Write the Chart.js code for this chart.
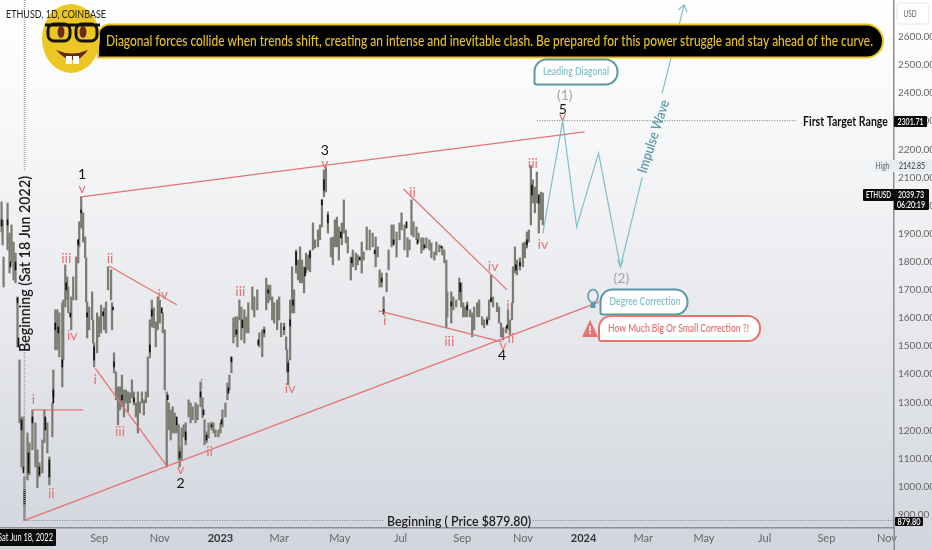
<!DOCTYPE html>
<html>
<head>
<meta charset="utf-8">
<title>ETHUSD leading diagonal</title>
<script src="https://cdn.jsdelivr.net/npm/chart.js@4"></script>
<style>
    html, body { margin: 0; padding: 0; }
    body { width: 932px; height: 550px; overflow: hidden; background: linear-gradient(180deg, #ffffff 0%, #f6f7f8 25%, #e6e8ec 60%, #d2d5dd 100%); }
    canvas { display: block; }
</style>
</head>
<body>
<canvas id="chart" width="932" height="550"></canvas>
<script>
// x axis is days since Jun 18 2022, y axis is price in USD
const monthDays = [75, 136, 197, 256, 317, 378, 440, 501, 562, 622, 683, 744, 806, 867];
const monthLabels = ['Sep', 'Nov', '2023', 'Mar', 'May', 'Jul', 'Sep', 'Nov', '2024', 'Mar', 'May', 'Jul', 'Sep', 'Nov'];
const priceTicks = [900, 1000, 1100, 1200, 1300, 1400, 1500, 1600, 1700, 1800, 1900, 2000, 2100, 2200, 2300, 2400, 2500, 2600];

// candle ranges
const candleDays = [-23,-22,-21,-17,-15,-13,-11,-9,-7,-5,-3,-1,0,3,5,8,11,13,15,18,20,23,25,28,29,31,33,35,38,39,41,43,44,47,49,52,54,55,57,59,61,62,63,65,68,69,70,73,75,77,80,82,84,87,
    88,90,92,94,96,98,100,102,104,106,108,110,112,114,116,118,120,122,124,126,128,130,132,134,136,139,141,143,145,147,149,151,153,155,156,158,160,162,165,167,169,172,174,177,179,181,183,185,188,190,192,195,197,199,202,204,
    206,208,210,212,214,216,218,221,223,225,229,231,234,236,239,241,243,245,247,249,251,254,256,258,261,263,264,265,267,269,271,273,275,277,279,281,283,285,287,290,292,295,297,299,301,303,305,308,310,312,314,316,319,321,323,325,
    328,330,333,335,339,341,344,347,350,353,355,357,359,361,364,366,369,371,374,377,379,382,385,387,389,391,394,396,399,401,404,407,409,412,414,417,420,422,424,425,429,431,434,437,439,441,443,445,448,450,452,455,457,
    460,462,465,467,469,471,475,477,479,481,484,486,488,490,491,493,495,498,501,503,505,507,509,511,513,515,517,519,521];
const candleHighs = [2013,1949,1817,2009,1902,1931,1870,1831,1675,1451,1248,1248,1035,1191,1156,1273,1227,1131,1085,1166,1273,1227,1106,1298,1415,1629,1629,1618,1654,1664,1789,1746,1710,1675,1746,1817,1878,1942,2031,1974,1888,1814,1657,1639,1693,1593,1511,1618,1604,1646,1636,1657,1782,1771,
    1654,1476,1408,1355,1355,1397,1344,1344,1337,1334,1380,1337,1298,1337,1301,1337,1309,1337,1461,1593,1664,1636,1586,1675,1664,1618,1558,1337,1298,1273,1284,1262,1227,1220,1141,1209,1220,1227,1309,1298,1284,1298,1291,1373,1316,1238,1195,1227,1230,1227,1202,1202,1227,1273,1298,1369,
    1397,1461,1600,1604,1604,1664,1639,1629,1604,1654,1710,1675,1700,1547,1558,1568,1742,1717,1717,1675,1654,1664,1675,1582,1582,1533,1487,1451,1664,1782,1700,1842,1806,1853,1806,1782,1831,1824,1842,1938,1878,1913,1931,2020,2127,2137,1977,1885,1888,1949,1959,1924,1938,2020,1913,1888,
    1817,1842,1831,1824,1870,1835,1924,1913,1902,1888,1853,1771,1760,1675,1760,1842,1931,1931,1906,1938,1974,1931,1885,1878,2020,1942,1924,1902,1885,1885,1885,1878,1867,1835,1870,1860,1853,1842,1806,1693,1693,1675,1664,1742,1725,1654,1639,1657,1629,1618,1639,1654,1664,
    1604,1593,1604,1664,1753,1675,1654,1639,1582,1565,1568,1629,1593,1654,1782,1853,1806,1814,1867,1870,1906,1913,2142,2091,2066,2119,2009,2048,2045];
const candleLows = [1906,1860,1710,1842,1760,1799,1735,1725,1497,1227,1070,1060,880,1024,1042,1131,1070,996,1035,1049,1156,1120,1006,1177,1319,1487,1487,1462,1355,1451,1639,1664,1618,1558,1664,1664,1796,1853,1920,1870,1814,1657,1529,1558,1593,1511,1426,1476,1533,1547,1558,1547,1700,1664,
    1558,1405,1309,1220,1273,1284,1248,1298,1266,1298,1316,1291,1248,1191,1262,1298,1255,1298,1319,1458,1568,1565,1497,1558,1582,1547,1344,1070,1202,1166,1191,1191,1191,1095,1070,1095,1177,1149,1248,1227,1238,1227,1238,1284,1245,1149,1156,1173,1202,1191,1177,1177,1191,1213,1248,1309,
    1344,1405,1511,1533,1497,1593,1522,1511,1547,1547,1629,1604,1629,1497,1462,1533,1629,1654,1664,1593,1582,1558,1593,1533,1540,1487,1408,1362,1451,1618,1618,1760,1735,1725,1725,1689,1760,1771,1764,1842,1849,1853,1878,1924,2031,2048,1902,1817,1789,1853,1853,1806,1860,1902,1867,1831,
    1735,1782,1771,1789,1760,1806,1842,1842,1853,1782,1817,1710,1710,1622,1693,1771,1853,1867,1817,1878,1913,1842,1817,1842,1895,1888,1878,1870,1831,1842,1849,1842,1814,1806,1824,1835,1824,1796,1565,1604,1582,1629,1639,1664,1639,1604,1604,1604,1604,1533,1558,1604,1604,
    1575,1565,1575,1593,1664,1639,1622,1582,1533,1522,1547,1558,1540,1593,1654,1760,1753,1771,1782,1814,1849,1870,1931,2009,1974,2009,1902,1949,1931];

// the dark candle bodies that stand out from the grey
const bodyDays = [-23,-17,-14,-9,-7,-6,-3,-1,0,4,8,15,21,25,29,31,34,38,42,46,54,57,63,70,79,89,90,98,110,126,128,138,144,153,156,162,177,180,183,188,198,205,208,213,219,235,241,245,261,265,267,270,273,282,287,299,301,305,318,329,337,352,359,361,371,384,395,402,419,429,438,445,465,469,485,494,498,505,510,517];
const bodyHighs = [1949,1949,1799,1799,1671,1529,1238,1070,989,1120,1248,1070,1248,1095,1344,1582,1568,1451,1725,1618,1878,1984,1618,1497,1622,1639,1444,1326,1316,1504,1629,1636,1326,1248,1124,1195,1337,1273,1184,1220,1238,1351,1461,1558,1593,1522,1558,1700,1568,1440,1593,1664,1835,1778,1835,2020,2091,1966,1906,1814,1817,1842,1742,1629,1878,1942,1878,1860,1856,1657,1725,1646,1593,1671,1575,1789,1799,1878,2073,2038];
const bodyLows = [1927,1931,1782,1771,1654,1497,1202,1049,935,1049,1227,1042,1202,1035,1298,1558,1547,1426,1700,1604,1860,1974,1604,1451,1607,1629,1426,1309,1301,1479,1607,1618,1309,1220,1102,1166,1319,1255,1166,1213,1223,1333,1444,1543,1565,1504,1547,1689,1558,1408,1572,1646,1789,1750,1814,2002,2055,1938,1885,1796,1806,1828,1728,1614,1860,1920,1863,1849,1849,1643,1693,1629,1579,1657,1565,1771,1785,1860,2038,2009];

// drawn trend lines
const redLineDays = [[57, 563], [0, 578], [8, 59], [85, 153], [71, 143], [381, 485], [356, 480]];
const redLinePrices = [[2031, 2262], [880, 1657], [1273, 1273], [1785, 1647], [1422, 1074], [2059, 1700], [1625, 1515]];

// projected path after the last candle
const pathDays = [521, 541, 555, 577, 599, 621];
const pathPrices = [1902, 2301, 1924, 2187, 1782, 2102];
const impulseDays = [641, 663];
const impulsePrices = [2400, 2713];
const arrowDays = [657, 663, 666];
const arrowPrices = [2695, 2713, 2688];

const targetDays = [515, 775];
const targetPrices = [2301.71, 2301.71];
const baseDays = [[0, 361], [511, 874]];
const basePrices = [[879.8, 879.8], [879.8, 879.8]];
const startDays = [0, 0];
const startPrices = [[2731, 2125], [1500, 880]];

// wave counts
const redLabels = ['i','ii','iii','iv','v','ii','i','iii','iv','v','i','ii','iii','iv','v','ii','i','iii','iv','i','ii','v','iii','iv','v'];
const redDays = [9,27,42,48,58,86,71,96,139,157,178,186,217,267,302,390,362,427,471,486,489,481,511,521,541];
const redPrices = [1309,974,1810,1536,2059,1810,1383,1198,1685,1060,1362,1124,1696,1351,2151,2045,1590,1515,1782,1646,1526,1501,2151,1863,2315];
const blackLabels = ['1', '2', '3', '4', '5'];
const blackDays = [58, 157, 302, 480, 541];
const blackPrices = [2109, 1013, 2194, 1465, 2343];
const greyLabels = ['(1)', '(2)'];
const greyDays = [543, 600];
const greyPrices = [2393, 1739];

const RED = '#e57373';
const TEAL = '#7fbfca';
const TEAL_DARK = '#5b97a6';
const GOLD = '#e8c21e';
const FONT = 'Lato, "Noto Sans", sans-serif';
const AXIS_FONT = '"Liberation Sans Narrow", Lato, sans-serif';

function toPoints(days, prices) {
    return days.map((d, i) => ({ x: d, y: prices[i] }));
}

function lineSet(points, color, width, dash) {
    return {
        type: 'line',
        data: points,
        borderColor: color,
        borderWidth: width,
        borderDash: dash || [],
        pointRadius: 0,
        tension: 0,
        order: 0
    };
}

function text(ctx, str, x, y, font, color, opts = {}) {
    ctx.save();
    ctx.font = font;
    ctx.fillStyle = color;
    ctx.textAlign = opts.align || 'center';
    ctx.textBaseline = 'middle';
    ctx.translate(x, y);
    if (opts.rotate) {
        ctx.rotate(opts.rotate);
    }
    // the picture's lettering is narrow, so squeeze to the width seen there
    if (opts.width) {
        ctx.scale(opts.width / ctx.measureText(str).width, 1);
    }
    ctx.fillText(str, 0, 0);
    ctx.restore();
}

function box(ctx, x, y, w, h, radii, fill, stroke, lineWidth) {
    ctx.beginPath();
    ctx.roundRect(x, y, w, h, radii);
    ctx.fillStyle = fill;
    ctx.fill();
    if (stroke) {
        ctx.strokeStyle = stroke;
        ctx.lineWidth = lineWidth;
        ctx.stroke();
    }
}

function drawNerdFace(ctx) {
    ctx.fillStyle = '#ecc624';
    ctx.beginPath();
    ctx.ellipse(71, 38.5, 29, 34.5, 0, 0, Math.PI * 2);
    ctx.fill();
    // eyes
    ctx.fillStyle = '#6b2c1e';
    [61, 83].forEach(cx => {
        ctx.beginPath();
        ctx.ellipse(cx, 32, 3.5, 6, 0, 0, Math.PI * 2);
        ctx.fill();
    });
    // glasses
    ctx.strokeStyle = '#15120c';
    ctx.lineWidth = 3;
    ctx.beginPath();
    ctx.roundRect(48, 24, 22, 17, 6);
    ctx.roundRect(76, 24, 21, 17, 6);
    ctx.moveTo(45, 25);
    ctx.lineTo(100, 25);
    ctx.stroke();
    // mouth and teeth
    ctx.fillStyle = '#5e2a1c';
    ctx.beginPath();
    ctx.moveTo(56, 50);
    ctx.quadraticCurveTo(72, 57, 88, 50);
    ctx.quadraticCurveTo(74, 70, 56, 50);
    ctx.fill();
    ctx.fillStyle = '#ffffff';
    ctx.fillRect(66, 56, 6, 8);
    ctx.fillRect(73, 56, 6, 8);
}

const overlayPlugin = {
    id: 'overlay',
    afterDraw(chart) {
        const ctx = chart.ctx;
        const xs = chart.scales.x;
        const ys = chart.scales.y;

        // wave labels sit on the price scale
        redLabels.forEach((t, i) => text(ctx, t, xs.getPixelForValue(redDays[i]), ys.getPixelForValue(redPrices[i]), '14px ' + FONT, RED));
        blackLabels.forEach((t, i) => text(ctx, t, xs.getPixelForValue(blackDays[i]), ys.getPixelForValue(blackPrices[i]), '14px ' + FONT, '#111'));
        greyLabels.forEach((t, i) => text(ctx, t, xs.getPixelForValue(greyDays[i]), ys.getPixelForValue(greyPrices[i]), '14px ' + FONT, '#a9a2aa'));
        text(ctx, 'v', xs.getPixelForValue(599), ys.getPixelForValue(1796), '13px ' + FONT, TEAL);

        text(ctx, 'Beginning (Sat 18 Jun 2022)', 25, 264, '600 14.5px ' + FONT, '#1c1c1c', { rotate: -Math.PI / 2, width: 176 });
        text(ctx, 'Beginning ( Price $879.80)', 459, 521, '600 14px ' + FONT, '#1c1c1c', { width: 144 });
        text(ctx, 'Impulse Wave', 653.5, 136.5, '600 14px ' + FONT, TEAL_DARK, { rotate: -1.26, width: 76 });
        text(ctx, 'First Target Range', 845.5, 121, '700 14px ' + FONT, '#111', { width: 85 });

        // banner, face, then the title on top of the face
        box(ctx, 98, 24.5, 785, 33, [12, 17, 17, 0], '#000000', GOLD, 2);
        drawNerdFace(ctx);
        text(ctx, 'ETHUSD, 1D, COINBASE', 6, 14, '12px ' + FONT, '#222', { align: 'left', width: 100 });
        text(ctx, 'Diagonal forces collide when trends shift, creating an intense and inevitable clash. Be prepared for this power struggle and stay ahead of the curve.',
            106, 40.5, '500 15.5px ' + FONT, GOLD, { align: 'left', width: 767 });

        // callouts
        box(ctx, 534.5, 59.5, 83, 25, [12, 12, 12, 2], '#ffffff', TEAL_DARK, 2);
        text(ctx, 'Leading Diagonal', 576, 71.5, '600 12px ' + FONT, TEAL, { width: 66 });
        box(ctx, 600.5, 289.5, 87, 25, [12, 12, 12, 2], '#ffffff', TEAL_DARK, 2);
        text(ctx, 'Degree Correction', 645, 301.5, '600 12px ' + FONT, TEAL, { width: 71 });
        box(ctx, 599, 316, 161, 25, [12, 12, 12, 2], '#ffffff', RED, 2);
        text(ctx, 'How Much Big Or Small Correction ?!', 608, 328, '600 12px ' + FONT, RED, { align: 'left', width: 141 });

        // bulb
        ctx.strokeStyle = TEAL_DARK;
        ctx.lineWidth = 1.5;
        ctx.beginPath();
        ctx.ellipse(593, 296, 5, 6.5, 0, 0, Math.PI * 2);
        ctx.stroke();
        ctx.fillStyle = TEAL_DARK;
        ctx.fillRect(590.5, 303, 5, 5);

        // warning sign
        ctx.fillStyle = RED;
        ctx.beginPath();
        ctx.moveTo(590, 320);
        ctx.lineTo(598, 337);
        ctx.lineTo(582, 337);
        ctx.closePath();
        ctx.fill();
        text(ctx, '!', 590, 330, '700 11px ' + FONT, '#ffffff');

        // price scale tags
        box(ctx, 897, 3, 32, 21, 3, 'rgba(255,255,255,0.8)', '#e4e6ea', 1);
        text(ctx, 'USD', 910, 14, '10px ' + FONT, '#666', { width: 13 });
        box(ctx, 894, 116, 33, 11, 1, '#0a0a0a');
        text(ctx, '2301.71', 910.5, 121.5, '600 10px ' + FONT, '#ffffff', { width: 26 });
        ctx.fillStyle = '#e7edf1';
        ctx.fillRect(874, 160, 58, 12);
        text(ctx, 'High', 882.5, 166, '10px ' + FONT, '#5f6670', { width: 14 });
        text(ctx, '2142.85', 912, 166, '10px ' + FONT, '#333', { width: 26 });
        box(ctx, 863, 189, 31, 12, 1, '#0a0a0a');
        text(ctx, 'ETHUSD', 878.5, 195, '600 10px ' + FONT, '#ffffff', { width: 25 });
        box(ctx, 894, 189, 35, 21, 1, '#0a0a0a');
        text(ctx, '2039.73', 911, 195, '600 10px ' + FONT, '#ffffff', { width: 26 });
        text(ctx, '06:20:19', 911, 205, '600 10px ' + FONT, '#ffffff', { width: 28 });
        box(ctx, 895, 517, 28, 9, 1, '#0a0a0a');
        text(ctx, '879.80', 909, 521.5, '600 10px ' + FONT, '#ffffff', { width: 23 });

        // date tag under the start of the chart
        box(ctx, -2, 529, 58, 17, 1, '#0a0a0a');
        text(ctx, 'Sat Jun 18, 2022', -2, 537.5, '11px ' + FONT, '#ffffff', { align: 'left', width: 55 });

        // price axis line carries on past the time axis
        ctx.fillStyle = '#8b8e96';
        ctx.fillRect(893.5, 528, 1.5, 22);
    }
};

new Chart(document.getElementById('chart'), {
    data: {
        datasets: [
            ...redLineDays.map((days, i) => lineSet(toPoints(days, redLinePrices[i]), RED, 1.3)),
            lineSet(toPoints(pathDays, pathPrices), TEAL, 1.2),
            lineSet(toPoints(impulseDays, impulsePrices), TEAL, 1.2),
            lineSet(toPoints(arrowDays, arrowPrices), TEAL, 1.2),
            lineSet(toPoints(targetDays, targetPrices), '#555', 0.8, [1, 1.5]),
            ...baseDays.map((days, i) => lineSet(toPoints(days, basePrices[i]), '#777', 0.9, [1, 1.5])),
            ...startPrices.map(prices => lineSet(toPoints(startDays, prices), '#a2a2a2', 1.5, [1, 1])),
            {
                type: 'bar',
                data: bodyDays.map((d, i) => ({ x: d, y: [bodyLows[i], bodyHighs[i]] })),
                backgroundColor: '#111111',
                barThickness: 1,
                grouped: false,
                order: 1
            },
            {
                type: 'bar',
                data: candleDays.map((d, i) => ({ x: d, y: [candleLows[i], candleHighs[i]] })),
                backgroundColor: '#7c7c73',
                barThickness: 1.6,
                grouped: false,
                order: 2
            }
        ]
    },
    options: {
        responsive: false,
        devicePixelRatio: 1,
        animation: false,
        layout: { padding: 0 },
        plugins: { legend: { display: false }, tooltip: { enabled: false } },
        scales: {
            x: {
                type: 'linear',
                offset: false,
                min: -24.6,
                max: 874,
                grid: { display: false, drawTicks: false, offset: false },
                border: { color: '#8b8e96', width: 1.5 },
                afterFit: scale => { scale.height = 22; scale.paddingLeft = 0; scale.paddingRight = 0; },
                afterBuildTicks: scale => { scale.ticks = monthDays.map(v => ({ value: v })); },
                ticks: {
                    autoSkip: false,
                    maxRotation: 0,
                    padding: 4,
                    font: ctx => ({ family: AXIS_FONT, size: 11, weight: ctx.tick && (ctx.tick.value === 197 || ctx.tick.value === 562) ? '700' : '400' }),
                    color: ctx => ctx.tick && (ctx.tick.value === 197 || ctx.tick.value === 562) ? '#333' : '#666',
                    callback: value => monthLabels[monthDays.indexOf(value)]
                }
            },
            y: {
                type: 'linear',
                position: 'right',
                min: 853,
                max: 2731,
                grid: { display: false, drawTicks: false },
                border: { color: '#8b8e96', width: 1.5 },
                afterFit: scale => { scale.width = 38; scale.paddingTop = 0; scale.paddingBottom = 0; },
                afterBuildTicks: scale => { scale.ticks = priceTicks.map(v => ({ value: v })); },
                ticks: {
                    autoSkip: false,
                    padding: 4,
                    font: { family: AXIS_FONT, size: 10 },
                    color: '#666',
                    callback: value => value.toFixed(2)
                }
            }
        }
    },
    plugins: [overlayPlugin]
});
</script>
</body>
</html>
